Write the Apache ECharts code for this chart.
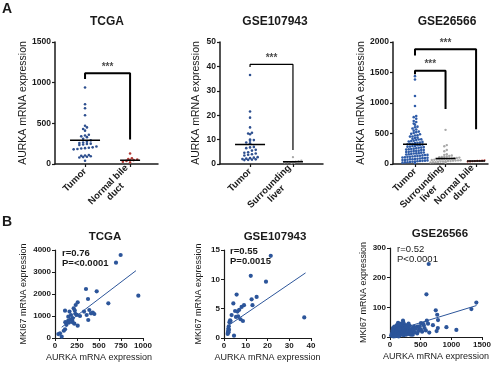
<!DOCTYPE html>
<html><head><meta charset="utf-8">
<script src="https://cdn.jsdelivr.net/npm/echarts@6/dist/echarts.min.js"></script>
<style>html,body{margin:0;padding:0;background:#fff}#c{width:500px;height:366px}</style>
</head><body><div id="c"></div>
<script>
// ---------- DATA ----------
const tcgaCats = ['Tumor', 'Normal bile\nduct'];
const gse107Cats = ['Tumor', 'Surrounding\nliver'];
const gse265Cats = ['Tumor', 'Surrounding\nliver', 'Normal bile\nduct'];

const tcgaTumor = [940, 735, 685, 600, 470, 450, 430, 410, 360, 350, 340, 330, 310, 290, 275, 265, 258, 250, 245, 240, 235, 215, 205, 200, 195, 190, 185, 180, 110, 105, 100, 95, 90, 85, 80, 40];
const tcgaNormal = [130, 70, 62, 55, 48, 45, 38, 28, 18];
const tcgaCenters = [292, 45];

const gse107Tumor = [36.5, 21.5, 19.0, 15.0, 12.8, 12.5, 12.2, 10.0, 9.8, 9.5, 8.8, 8.5, 7.0, 6.8, 6.5, 5.8, 5.5, 4.8, 4.6, 4.3, 4.0, 3.8, 3.5, 2.8, 2.6, 2.4, 2.2, 2.0, 1.9, 1.8, 1.7, 1.6];
const gse107Surr = [2.8, 1.4, 1.2, 1.0, 0.9, 0.8, 0.7, 0.6, 0.5, 0.4];
const gse107Centers = [8.0, 0.9];

const gse265Tumor = [1440, 1385, 1115, 950, 785, 768, 742, 706, 688, 662, 645, 612, 603, 581, 566, 547, 531, 522, 507, 494, 488, 471, 466, 452, 449, 433, 427, 415, 404, 401, 392, 383, 377, 368, 362, 351, 349, 342, 333, 331, 322, 318, 311, 307, 296, 294, 285, 283, 277, 269, 266, 258, 252, 247, 243, 236, 231, 228, 219, 215, 212, 204, 199, 197, 189, 186, 178, 174, 171, 163, 160, 156, 149, 147, 141, 136, 133, 128, 124, 119, 117, 111, 107, 103, 98, 96, 91, 87, 83, 78, 76, 71, 67, 64, 59, 55, 52, 48, 44, 41, 37, 33, 29, 26, 22, 18];
const gse265Surr = [560, 310, 290, 230, 210, 160, 150, 140, 130, 125, 120, 115, 110, 105, 100, 95, 90, 88, 85, 80, 78, 75, 72, 70, 65, 62, 60, 58, 55, 50, 48, 45, 42, 40, 35, 30, 28, 25, 20];
const gse265Normal = [60, 55, 52, 50, 48, 45, 42, 40];
const gse265Centers = [322, 90, 50];

// significance brackets: [x, y] vertices in data units
const tcgaBracket = [[0, 1045], [0, 1115], [1, 1115], [1, 300]];
const gse107Bracket = [[0, 39.8], [0, 40.8], [1, 40.8], [1, 5.7]];
const gse265BracketIn = [[0, 1470], [0, 1530], [1, 1530], [1, 900]];
const gse265BracketOut = [[0, 1780], [0, 1880], [2, 1880], [2, 568]];

// correlation scatter [AURKA, MKI67]
const tcgaCorr = [[746,3773],[693,3423],[947,1923],[352,2227],[474,2120],[606,1577],[375,1773],[258,1623],[114,1242],[212,1350],[235,1500],[225,1250],[165,1200],[390,1273],[409,1120],[447,1090],[430,1150],[360,1045],[378,818],[284,1000],[182,1045],[151,970],[200,900],[201,714],[258,560],[151,790],[117,720],[130,600],[114,394],[100,330],[57,212],[76,60],[38,180],[180,850],[230,1100],[250,1050],[195,800],[220,650],[330,1200],[160,700]];
const tcgaFit = [[76, 490], [920, 3060]];
const gse107Corr = [[21.5,14.0],[12.3,10.6],[19.3,9.6],[5.8,7.4],[15,7.0],[12.7,6.6],[4.3,5.9],[13.1,5.6],[9.2,5.6],[8.1,5.3],[7.0,4.8],[5.1,4.6],[6.2,4.5],[36.9,3.5],[3.5,3.9],[5.5,3.6],[6.5,3.7],[7.6,3.2],[8.7,2.9],[2.8,3.0],[2.5,2.7],[2.2,2.0],[2.0,1.6],[1.9,1.2],[1.8,0.9],[1.7,0.7],[2.3,1.4],[2.1,1.0],[4.6,0.4],[3.0,2.9]];
const gse107Fit = [[1.5, 2.0], [37.5, 11.1]];
const gse265Corr = [[631,246],[594,144],[1408,116],[1327,94],[746,90],[770,75],[783,57],[920,33],[1082,24],[212,55],[600,55],[620,45],[700,40],[780,30],[760,20],[640,15],[550,40],[450,35],[480,25],[505,47],
[20,5],[31,12],[36,3],[44,18],[52,8],[57,25],[61,14],[66,4],[72,21],[77,10],[82,31],[86,6],[93,16],[96,23],[101,12],[107,36],[111,8],[118,19],[121,27],[126,4],[133,14],[137,30],[142,10],[146,21],[152,38],[157,6],[161,16],[168,24],[172,12],[176,33],[183,8],[187,20],[191,28],[198,14],[203,42],[207,10],[211,18],[218,26],[223,6],[227,34],[232,14],[238,22],[243,31],[246,10],[253,18],[257,40],[262,8],[268,24],[272,16],[278,32],[283,12],[292,20],[302,28],[311,10],[322,38],[331,18],[343,25],[352,14],[362,30],[371,8],[383,22],[392,35],[404,16],[421,28],[443,12],[462,20],[483,36],[502,26],[523,18],[541,44],[563,30],[584,22],[48,30],[71,35],[112,40],[153,28],[181,45],[221,48],[62,2],[91,3],[141,2],[261,35],[303,45],[341,8],[41,22],[132,48]];
const gse265Fit = [[20, 18], [1410, 106]];

// ---------- STYLE / LAYOUT ----------
const FF = '"Liberation Sans", Arial, sans-serif';
const INK = '#1a1a1a';
const grids = [
  {left: 55, top: 42, width: 103, height: 122},
  {left: 220, top: 42, width: 103, height: 122},
  {left: 393, top: 42, width: 95, height: 122},
  {left: 55, top: 250, width: 88, height: 88},
  {left: 224, top: 250, width: 87, height: 88},
  {left: 390, top: 248, width: 92, height: 89}
];
const xRangesA = [[-0.667, 1.62], [-0.70, 1.70], [-0.72, 2.39]];
const yMaxA = [1500, 50, 2000], yIntA = [500, 10, 500];
const catsA = [tcgaCats, gse107Cats, gse265Cats];
const yNameGapA = [25, 18, 26];

const xMaxB = [1000, 40, 1500], xIntB = [250, 10, 500];
const yMaxB = [4000, 15, 300], yIntB = [1000, 5, 100];
const yNameGapB = [27, 21, 22];

// row-binned dot layout (GraphPad style): points in the same pixel row sit side by side
function swarm(values, idx, pxX, pxY, rowH, dx) {
  const rows = {};
  values.forEach(v => {
    const b = Math.round(v * pxY / rowH);
    (rows[b] = rows[b] || []).push(v);
  });
  const out = [];
  Object.keys(rows).forEach(b => {
    const r = rows[b].slice().sort((a, c) => a - c);
    const n = r.length;
    r.forEach((v, j) => {
      const off = (j - (n - 1) / 2) * dx;
      out.push([idx + off / pxX, v]);
    });
  });
  return out;
}

const plain = v => String(v);
const xAxis = [], yAxis = [], series = [];
for (let i = 0; i < 3; i++) {
  const cats = catsA[i];
  const ticks = cats.map((c, j) => j);
  xAxis.push({
    gridIndex: i, type: 'value', min: xRangesA[i][0], max: xRangesA[i][1],
    axisLine: {show: true, onZero: false, lineStyle: {color: INK, width: 1.5}},
    axisTick: {show: true, customValues: ticks, length: 3, lineStyle: {color: INK, width: 1.2}},
    splitLine: {show: false},
    axisLabel: {
      customValues: ticks, rotate: 45, margin: 6, color: INK,
      formatter: v => cats[Math.round(v)].split('\n').map(s => '{a|' + s + '}').join('\n'),
      rich: {a: {align: 'center', fontSize: 9.5, fontWeight: 'bold', fontFamily: FF, color: INK, lineHeight: 10}}
    }
  });
  yAxis.push({
    gridIndex: i, type: 'value', min: 0, max: yMaxA[i], interval: yIntA[i],
    name: 'AURKA mRNA expression', nameLocation: 'middle', nameGap: yNameGapA[i],
    nameTextStyle: {fontSize: 10.5, fontFamily: FF, color: INK},
    axisLine: {show: true, onZero: false, lineStyle: {color: INK, width: 1.5}},
    axisTick: {show: true, length: 3, lineStyle: {color: INK, width: 1.2}},
    splitLine: {show: false},
    axisLabel: {formatter: plain, fontSize: 8.5, fontWeight: 'bold', fontFamily: FF, color: INK, margin: 4}
  });
}
for (let i = 0; i < 3; i++) {
  xAxis.push({
    gridIndex: 3 + i, type: 'value', min: 0, max: xMaxB[i], interval: xIntB[i],
    name: 'AURKA mRNA expression', nameLocation: 'middle', nameGap: 15,
    nameTextStyle: {fontSize: 9, fontFamily: FF, color: INK},
    axisLine: {show: true, onZero: false, lineStyle: {color: INK, width: 1.2}},
    axisTick: {show: true, length: 3, lineStyle: {color: INK}},
    splitLine: {show: false},
    axisLabel: {formatter: plain, fontSize: 8, fontWeight: 'bold', fontFamily: FF, color: INK, margin: 4}
  });
  yAxis.push({
    gridIndex: 3 + i, type: 'value', min: 0, max: yMaxB[i], interval: yIntB[i],
    name: 'MKI67 mRNA expression', nameLocation: 'middle', nameGap: yNameGapB[i],
    nameTextStyle: {fontSize: 9, fontFamily: FF, color: INK},
    axisLine: {show: true, onZero: false, lineStyle: {color: INK, width: 1.2}},
    axisTick: {show: true, length: 3, lineStyle: {color: INK}},
    splitLine: {show: false},
    axisLabel: {formatter: plain, fontSize: 8, fontWeight: 'bold', fontFamily: FF, color: INK, margin: 4}
  });
}

function pxScale(i) {
  return [grids[i].width / (xRangesA[i][1] - xRangesA[i][0]), grids[i].height / yMaxA[i]];
}
function dots(ax, values, idx, color, size, rowH, dx) {
  const [px, py] = pxScale(ax);
  series.push({type: 'scatter', xAxisIndex: ax, yAxisIndex: ax, data: swarm(values, idx, px, py, rowH, dx),
    symbolSize: size, itemStyle: {color: color, opacity: 1}, silent: true, z: 3});
}
function centerLine(ax, idx, v, halfPx) {
  const [px] = pxScale(ax);
  series.push({type: 'line', xAxisIndex: ax, yAxisIndex: ax, data: [[idx - halfPx / px, v], [idx + halfPx / px, v]],
    symbol: 'none', lineStyle: {color: '#000', width: 1.5}, silent: true, z: 4});
}
function bracket(ax, pts, w, textX) {
  series.push({type: 'line', xAxisIndex: ax, yAxisIndex: ax, data: pts, symbol: 'none',
    lineStyle: {color: '#000', width: w}, silent: true, z: 4});
  series.push({type: 'scatter', xAxisIndex: ax, yAxisIndex: ax, data: [[textX, pts[1][1]]], symbolSize: 0,
    label: {show: true, position: 'top', distance: 1, formatter: '***', fontSize: 10, fontWeight: 'bold', fontFamily: FF, color: INK},
    silent: true});
}

const BLUE = '#2d4f8f', BLUE2 = '#2f5ca8', RED = '#b23a35', GREY = '#a8a8a8';
// A TCGA
dots(0, tcgaTumor, 0, BLUE, 2.6, 3.2, 3.8);
dots(0, tcgaNormal, 1, RED, 2.6, 3.2, 3.6);
centerLine(0, 0, tcgaCenters[0], 15);
centerLine(0, 1, tcgaCenters[1], 10);
bracket(0, tcgaBracket, 2, 0.5);
// A GSE107943
dots(1, gse107Tumor, 0, BLUE, 2.6, 3.2, 3.8);
dots(1, gse107Surr, 1, GREY, 2.3, 2.6, 2.8);
centerLine(1, 0, gse107Centers[0], 15);
centerLine(1, 1, gse107Centers[1], 10);
bracket(1, gse107Bracket, 1.2, 0.5);
// A GSE26566
dots(2, gse265Tumor, 0, BLUE2, 2.6, 2.6, 2.5);
dots(2, gse265Surr, 1, GREY, 2.4, 2.6, 2.5);
dots(2, gse265Normal, 2, RED, 2.2, 2.6, 2.4);
centerLine(2, 0, gse265Centers[0], 12);
centerLine(2, 1, gse265Centers[1], 10);
centerLine(2, 2, gse265Centers[2], 9);
bracket(2, gse265BracketIn, 2, 0.5);
bracket(2, gse265BracketOut, 2, 1.0);

// B scatter + fits
const corr = [tcgaCorr, gse107Corr, gse265Corr];
const fits = [tcgaFit, gse107Fit, gse265Fit];
for (let i = 0; i < 3; i++) {
  series.push({type: 'scatter', xAxisIndex: 3 + i, yAxisIndex: 3 + i, data: corr[i], symbolSize: 4.2,
    itemStyle: {color: '#2c559a', opacity: 1}, silent: true});
  series.push({type: 'line', xAxisIndex: 3 + i, yAxisIndex: 3 + i, data: fits[i], symbol: 'none',
    lineStyle: {color: '#2c559a', width: 1}, silent: true});
}

function txt(x, y, s, size, weight, align) {
  return {type: 'text', x: x, y: y, silent: true,
    style: {text: s, font: (weight || 'normal') + ' ' + size + 'px ' + FF, fill: INK,
      textAlign: align || 'left', align: align || 'left', textVerticalAlign: 'middle', verticalAlign: 'middle'}};
}
const graphics = [
  txt(2, 9, 'A', 14, 'bold'),
  txt(2, 222, 'B', 14, 'bold'),
  txt(107, 22, 'TCGA', 12, 'bold', 'center'),
  txt(275, 22, 'GSE107943', 12, 'bold', 'center'),
  txt(447, 22, 'GSE26566', 12, 'bold', 'center'),
  txt(105, 237, 'TCGA', 11.5, 'bold', 'center'),
  txt(275, 237, 'GSE107943', 11.5, 'bold', 'center'),
  txt(440, 234, 'GSE26566', 11.5, 'bold', 'center'),
  txt(62, 253, 'r=0.76', 9.5, 'bold'),
  txt(62, 263, 'P=<0.0001', 9.5, 'bold'),
  txt(230, 251, 'r=0.55', 9.5, 'bold'),
  txt(230, 261, 'P=0.0015', 9.5, 'bold'),
  txt(397, 249, 'r=0.52', 9.5, 'normal'),
  txt(397, 259, 'P<0.0001', 9.5, 'normal')
];

const chart = echarts.init(document.getElementById('c'), null, {renderer: 'canvas'});
chart.setOption({
  animation: false,
  textStyle: {fontFamily: FF},
  grid: grids.map(g => Object.assign({containLabel: false}, g)),
  xAxis: xAxis, yAxis: yAxis, series: series, graphic: graphics
});
</script></body></html>
